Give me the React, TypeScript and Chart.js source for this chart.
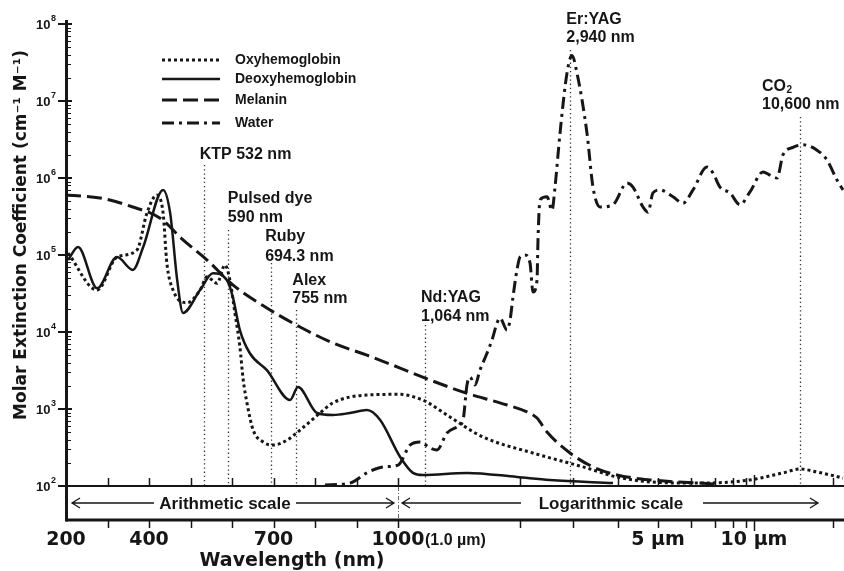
import { useEffect, useRef } from 'react';
import { Chart, registerables, LinearScale } from 'chart.js';

// ---------- data (wavelength in nm, molar extinction coefficient in cm^-1 M^-1) ----------
const SERIES_NAMES = ['Oxyhemoglobin', 'Deoxyhemoglobin', 'Melanin', 'Water'];

const OXY_NM = [205, 275, 323, 371, 395, 419, 434, 443, 458, 492, 523, 540, 564, 583, 595, 607, 619, 627, 636, 651, 675, 699, 733, 764, 812, 843, 925, 1005, 1052, 1078, 1256, 1564, 2209, 3198, 3975, 4782, 6358, 9487, 10374, 10600, 14703, 24498];
const OXY_VAL = [1.06e5, 3.5e4, 9.4e4, 1.16e5, 3.5e5, 6.0e5, 3.5e5, 7.9e4, 3.5e4, 2.4e4, 3.5e4, 5.2e4, 4.3e4, 7.4e4, 4.7e4, 1.77e4, 6.4e3, 2.4e3, 1.2e3, 533, 373, 340, 395, 533, 887, 1.2e3, 1.52e3, 1.55e3, 1.35e3, 1.23e3, 787, 433, 268, 177, 131, 113, 109, 120, 148, 166, 152, 127];

const DEOXY_NM = [205, 229, 275, 323, 361, 386, 434, 451, 468, 482, 523, 554, 588, 602, 619, 643, 684, 740, 759, 805, 843, 884, 925, 957, 1005, 1035, 1059, 1406, 1960, 2516, 3873];
const DEOXY_VAL = [8.6e4, 1.27e5, 3.7e4, 9.4e4, 6.4e4, 1.27e5, 7.0e5, 3.5e5, 4.7e4, 1.77e4, 3.5e4, 5.8e4, 4.7e4, 2.85e4, 1.06e4, 5.3e3, 3.2e3, 1.31e3, 1.93e3, 887, 835, 887, 970, 720, 238, 148, 139, 148, 131, 120, 109];

const MELANIN_NM = [200, 282, 361, 427, 482, 540, 602, 684, 764, 843, 925, 1005, 1122, 1406, 1751, 2110, 2278, 2459, 2932, 3409, 3975, 4782, 6358, 7265];
const MELANIN_VAL = [6.0e5, 5.5e5, 4.2e5, 3.0e5, 1.57e5, 8.6e4, 4.1e4, 2.05e4, 1.16e4, 7.2e3, 5.0e3, 3.4e3, 2.3e3, 1.6e3, 1.2e3, 915, 764, 502, 268, 177, 139, 120, 109, 105];

const WATER_NM = [824, 884, 925, 964, 1000, 1028, 1052, 1100, 1152, 1231, 1316, 1370, 1406, 1435, 1483, 1533, 1606, 1661, 1717, 1751, 1835, 1872, 1909, 1960, 2000, 2078, 2159, 2209, 2278, 2295, 2331, 2459, 2555, 2614, 2716, 2865, 2977, 3078, 3281, 3409, 3565, 3873, 4206, 4349, 4599, 4729, 4862, 5055, 5432, 5740, 6077, 6650, 6911, 7265, 7824, 8524, 9487, 10115, 10205, 10296, 10374, 10506, 11230, 14703, 17820, 21690, 24498];
const WATER_VAL = [103, 109, 148, 177, 187, 340, 373, 312, 294, 488, 583, 720, 2050, 2600, 2050, 3200, 5300, 7900, 1.31e4, 1.52e4, 1.06e4, 1.43e4, 2.85e4, 6.4e4, 9.4e4, 1.0e5, 7.9e4, 3.3e4, 4.7e4, 1.57e5, 5.2e5, 5.7e5, 3.8e5, 7.6e5, 3.8e6, 2.3e7, 3.9e7, 2.3e7, 3.8e6, 7.6e5, 4.2e5, 4.5e5, 8.6e5, 7.6e5, 4.2e5, 3.6e5, 6.4e5, 7.0e5, 5.7e5, 4.7e5, 7.0e5, 1.39e6, 1.16e6, 7.6e5, 6.4e5, 4.5e5, 6.6e5, 1.2e6, 1.09e6, 1.0e6, 2.0e6, 2.5e6, 2.7e6, 2.3e6, 1.71e6, 9.4e5, 7.0e5];

const LASER_NM = [532, 590, 694.3, 755, 1064, 2940, 10600];
const LASER_TEXT = [['KTP 532 nm'], ['Pulsed dye', '590 nm'], ['Ruby', '694.3 nm'], ['Alex', '755 nm'], ['Nd:YAG', '1,064 nm'], ['Er:YAG', '2,940 nm'], ['CO|2', '10,600 nm']];

const X_TICKS = [200, 300, 400, 500, 600, 700, 800, 900, 1000, 2000, 3000, 4000, 5000, 6000, 7000, 8000, 9000, 10000, 20000];
const X_TICK_LABELS: Record<number, string> = { 200: '200', 400: '400', 700: '700', 1000: '1000', 5000: '5 µm', 10000: '10 µm' };
const X_NOTE = '(1.0 µm)';
const Y_DECADES = [1e2, 1e3, 1e4, 1e5, 1e6, 1e7, 1e8];
const SCALE_NOTES = ['Arithmetic scale', 'Logarithmic scale'];
const Y_TITLE = 'Molar Extinction Coefficient (cm⁻¹ M⁻¹)';
const X_TITLE = 'Wavelength (nm)';

// ---------- axis geometry: hybrid arithmetic / logarithmic wavelength axis ----------
const AXIS_KNOT_NM = [200, 1000, 1064, 2000, 3000, 4000, 5000, 6000, 7000, 8000, 9000, 10000, 10600, 20000, 25000];
const AXIS_KNOT_POS = [0, 332, 359, 454, 507, 552, 592, 625, 649, 667, 680, 688, 734, 767, 778];

function warp(v: number): number {
  const n = AXIS_KNOT_NM, p = AXIS_KNOT_POS, total = p[p.length - 1];
  if (v <= n[1]) return (p[0] + ((v - n[0]) / (n[1] - n[0])) * (p[1] - p[0])) / total;
  for (let i = 1; i < n.length - 1; i++) {
    if (v <= n[i + 1] || i === n.length - 2) {
      const t = Math.log(v / n[i]) / Math.log(n[i + 1] / n[i]);
      return (p[i] + t * (p[i + 1] - p[i])) / total;
    }
  }
  return 1;
}
function unwarp(d: number): number {
  const n = AXIS_KNOT_NM, p = AXIS_KNOT_POS, total = p[p.length - 1];
  const q = d * total;
  if (q <= p[1]) return n[0] + ((q - p[0]) / (p[1] - p[0])) * (n[1] - n[0]);
  for (let i = 1; i < p.length - 1; i++) {
    if (q <= p[i + 1] || i === p.length - 2) {
      const t = (q - p[i]) / (p[i + 1] - p[i]);
      return n[i] * Math.pow(n[i + 1] / n[i], t);
    }
  }
  return n[n.length - 1];
}

class WarpScale extends LinearScale {
  static id = 'warp';
  static defaults = (LinearScale as any).defaults;
  getPixelForValue(value: number) {
    return (this as any).getPixelForDecimal(warp(value));
  }
  getValueForPixel(pixel: number) {
    return unwarp((this as any).getDecimalForPixel(pixel));
  }
}

Chart.register(...registerables, WarpScale as any);

// ---------- styling / layout ----------
const INK = '#161616';
const SERIES_STYLE = [
  { width: 3, dash: [3, 3] },
  { width: 2.5, dash: [] as number[] },
  { width: 3, dash: [15, 6] },
  { width: 3, dash: [12, 5, 3, 5] },
];
const LEGEND_ROWS = [60, 79, 100, 123];
const LASER_LAYOUT = [
  { dx: -4, rows: [155], top: 165 },
  { dx: 0, rows: [199, 218], top: 230 },
  { dx: -6, rows: [237, 257], top: 263 },
  { dx: -4, rows: [281, 299], top: 310 },
  { dx: -4, rows: [298, 317], top: 325 },
  { dx: -4, rows: [20, 38], top: 50 },
  { dx: -38, rows: [87, 105], top: 117 },
];
const BAND_H = 34;
const LS = '"Liberation Sans", Arial, sans-serif';
const DJ = '"DejaVu Sans", sans-serif';

function arrow(ctx: CanvasRenderingContext2D, x1: number, x2: number, y: number, head: 'left' | 'right') {
  ctx.beginPath();
  ctx.moveTo(x1, y);
  ctx.lineTo(x2, y);
  const tip = head === 'left' ? x1 : x2;
  const s = head === 'left' ? 1 : -1;
  ctx.moveTo(tip + s * 8, y - 5);
  ctx.lineTo(tip, y);
  ctx.lineTo(tip + s * 8, y + 5);
  ctx.stroke();
}

const decor = {
  id: 'decor',
  beforeDatasetsDraw(chart: any) {
    const { ctx, chartArea: ca } = chart;
    const xs = chart.scales.x;
    ctx.save();
    ctx.strokeStyle = '#333';
    ctx.lineWidth = 1.3;
    ctx.setLineDash([1.3, 2.9]);
    LASER_NM.forEach((nm, i) => {
      const x = Math.round(xs.getPixelForValue(nm)) + 0.5;
      ctx.beginPath();
      ctx.moveTo(x, LASER_LAYOUT[i].top);
      ctx.lineTo(x, ca.bottom);
      ctx.stroke();
    });
    ctx.restore();
  },
  afterDraw(chart: any) {
    const { ctx, chartArea: ca } = chart;
    const xs = chart.scales.x, ys = chart.scales.y;
    const bandBottom = ca.bottom + BAND_H;
    ctx.save();
    ctx.strokeStyle = INK;
    ctx.fillStyle = INK;
    ctx.setLineDash([]);

    // axis lines
    ctx.lineWidth = 3;
    ctx.beginPath();
    ctx.moveTo(ca.left + 0.5, ca.top - 4);
    ctx.lineTo(ca.left + 0.5, bandBottom + 1.5);
    ctx.stroke();
    ctx.lineWidth = 2;
    ctx.beginPath();
    ctx.moveTo(ca.left, ca.bottom);
    ctx.lineTo(ca.right, ca.bottom);
    ctx.stroke();
    ctx.lineWidth = 3;
    ctx.beginPath();
    ctx.moveTo(ca.left, bandBottom);
    ctx.lineTo(ca.right, bandBottom);
    ctx.stroke();

    // y ticks and labels (10^n)
    for (let e = 2; e <= 8; e++) {
      const y = ys.getPixelForValue(Y_DECADES[e - 2]);
      ctx.lineWidth = 2;
      ctx.beginPath();
      ctx.moveTo(ca.left - 8, y);
      ctx.lineTo(ca.left + 6, y);
      ctx.stroke();
      ctx.textBaseline = 'middle';
      ctx.textAlign = 'right';
      ctx.font = `bold 9px ${LS}`;
      const ew = ctx.measureText(String(e)).width;
      ctx.fillText(String(e), ca.left - 10, y - 5);
      ctx.font = `bold 13px ${LS}`;
      ctx.fillText('10', ca.left - 10.5 - ew, y + 1);
      if (e < 8) {
        ctx.lineWidth = 1;
        for (let m = 2; m <= 9; m++) {
          const yy = Math.round(ys.getPixelForValue(m * Y_DECADES[e - 2])) + 0.5;
          ctx.beginPath();
          ctx.moveTo(ca.left, yy);
          ctx.lineTo(ca.left + 5, yy);
          ctx.stroke();
        }
      }
    }

    // x ticks on both lines
    ctx.lineWidth = 1.5;
    X_TICKS.forEach((v) => {
      if (v === 200) return;
      const x = Math.round(xs.getPixelForValue(v)) + 0.5;
      const len = v === 10000 ? 11 : 8;
      ctx.beginPath();
      ctx.moveTo(x, ca.bottom);
      ctx.lineTo(x, ca.bottom - len);
      ctx.moveTo(x, bandBottom);
      ctx.lineTo(x, bandBottom + len);
      ctx.stroke();
    });

    // band divider at 1000 nm
    const x1000 = xs.getPixelForValue(1000);
    ctx.save();
    ctx.lineWidth = 1;
    ctx.strokeStyle = '#666';
    ctx.setLineDash([4, 2, 1, 2]);
    ctx.beginPath();
    ctx.moveTo(Math.round(x1000) + 0.5, ca.bottom + 1);
    ctx.lineTo(Math.round(x1000) + 0.5, bandBottom - 1);
    ctx.stroke();
    ctx.restore();

    // band labels + arrows
    const bandY = ca.bottom + 17;
    ctx.font = `bold 17px ${LS}`;
    ctx.textAlign = 'center';
    ctx.textBaseline = 'middle';
    ctx.fillText(SCALE_NOTES[0], 225, bandY + 1);
    ctx.fillText(SCALE_NOTES[1], 611, bandY + 1);
    ctx.lineWidth = 1.3;
    arrow(ctx, ca.left + 6, 154, bandY, 'left');
    arrow(ctx, 296, x1000 - 4, bandY, 'right');
    arrow(ctx, x1000 + 4, 521, bandY, 'left');
    arrow(ctx, 703, 818, bandY, 'right');

    // "(1.0 µm)" note after 1000 tick label
    ctx.font = `bold 16px ${LS}`;
    ctx.textAlign = 'left';
    ctx.fillText(X_NOTE, x1000 + 27, 541);

    // x title
    ctx.font = `bold 19px ${DJ}`;
    ctx.textAlign = 'center';
    ctx.textBaseline = 'alphabetic';
    ctx.fillText(X_TITLE, 292, 566);

    // y title
    ctx.save();
    ctx.translate(26, 235);
    ctx.rotate(-Math.PI / 2);
    ctx.font = `bold 17px ${DJ}`;
    ctx.textAlign = 'center';
    ctx.textBaseline = 'alphabetic';
    ctx.fillText(Y_TITLE, 0, 0);
    ctx.restore();

    // laser labels
    ctx.textAlign = 'left';
    ctx.textBaseline = 'middle';
    LASER_NM.forEach((nm, i) => {
      const lay = LASER_LAYOUT[i];
      const x = xs.getPixelForValue(nm) + lay.dx;
      LASER_TEXT[i].forEach((t, r) => {
        ctx.font = `bold 16px ${LS}`;
        if (t.includes('|')) {
          const [main, sub] = t.split('|');
          ctx.fillText(main, x, lay.rows[r]);
          const w = ctx.measureText(main).width;
          ctx.font = `bold 10px ${LS}`;
          ctx.fillText(sub, x + w + 0.5, lay.rows[r] + 3);
        } else {
          ctx.fillText(t, x, lay.rows[r]);
        }
      });
    });

    // legend
    chart.data.datasets.forEach((ds: any, i: number) => {
      const y = LEGEND_ROWS[i];
      ctx.save();
      ctx.lineWidth = ds.borderWidth;
      ctx.setLineDash(ds.borderDash || []);
      ctx.beginPath();
      ctx.moveTo(162, y);
      ctx.lineTo(220, y);
      ctx.stroke();
      ctx.restore();
      ctx.font = `bold 14px ${LS}`;
      ctx.textAlign = 'left';
      ctx.textBaseline = 'middle';
      ctx.fillText(ds.label, 235, y);
    });

    ctx.restore();
  },
};

function pts(nm: number[], val: number[]) {
  return nm.map((x, i) => ({ x, y: val[i] }));
}

export default function App() {
  const ref = useRef<HTMLCanvasElement>(null);
  useEffect(() => {
    document.body.style.margin = '0';
    const series = [
      pts(OXY_NM, OXY_VAL),
      pts(DEOXY_NM, DEOXY_VAL),
      pts(MELANIN_NM, MELANIN_VAL),
      pts(WATER_NM, WATER_VAL),
    ];
    const chart = new Chart(ref.current as HTMLCanvasElement, {
      type: 'line',
      data: {
        datasets: series.map((d, i) => ({
          label: SERIES_NAMES[i],
          data: d,
          borderColor: INK,
          borderWidth: SERIES_STYLE[i].width,
          borderDash: SERIES_STYLE[i].dash,
          borderCapStyle: 'butt',
          borderJoinStyle: 'round',
          pointRadius: 0,
          fill: false,
          cubicInterpolationMode: 'monotone',
          clip: 4,
        })) as any,
      },
      options: {
        responsive: false,
        animation: false,
        devicePixelRatio: 1,
        layout: { padding: { top: 24, left: 0, right: 0, bottom: 0 } },
        plugins: { legend: { display: false }, tooltip: { enabled: false } },
        scales: {
          x: {
            type: 'warp' as any,
            min: 200,
            max: 25000,
            afterBuildTicks: (s: any) => {
              s.ticks = X_TICKS.map((v) => ({ value: v }));
            },
            afterFit: (s: any) => {
              s.height = 85;
              s.paddingLeft = 0;
              s.paddingRight = 0;
            },
            grid: { display: false, drawTicks: false },
            border: { display: false },
            ticks: {
              autoSkip: false,
              maxRotation: 0,
              minRotation: 0,
              padding: 43,
              color: INK,
              font: { family: DJ, weight: 'bold', size: 19 },
              callback: (v: any) => X_TICK_LABELS[v as number] ?? '',
            },
          } as any,
          y: {
            type: 'logarithmic',
            min: 100,
            max: 1e8,
            afterBuildTicks: (s: any) => {
              s.ticks = Y_DECADES.map((v) => ({ value: v, major: true }));
            },
            afterFit: (s: any) => {
              s.width = 66;
              s.paddingTop = 0;
              s.paddingBottom = 0;
            },
            grid: { display: false, drawTicks: false },
            border: { display: false },
            ticks: { display: false },
          } as any,
        },
      },
      plugins: [decor as any],
    });
    return () => chart.destroy();
  }, []);
  return <canvas ref={ref} width={844} height={571} style={{ display: 'block', width: 844, height: 571 }} />;
}
